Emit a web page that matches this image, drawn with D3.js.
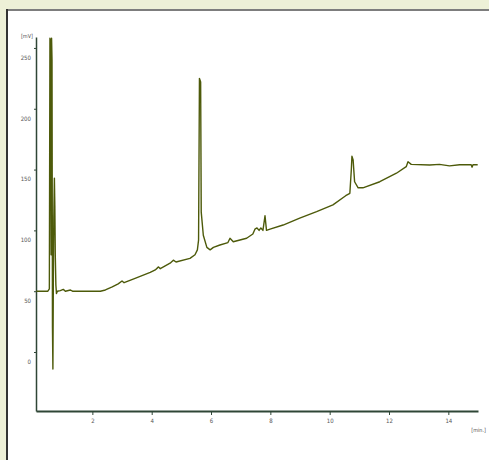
<!DOCTYPE html>
<html>
<head>
<meta charset="utf-8">
<script src="https://cdn.jsdelivr.net/npm/d3@7"></script>
<style>
  body { margin: 0; background: #edf0d7; }
  #container { width: 489px; height: 460px; overflow: hidden; }
  text { font-family: "Liberation Sans Narrow", "DejaVu Sans Condensed", sans-serif; fill: #555; }
</style>
</head>
<body>
<div id="container"></div>
<script>
/* CONSTANTS AND GLOBALS */
const width = 489,
  height = 460;

/* DATA - chromatogram trace */
const times = [0.11, 0.50, 0.55, 0.57, 0.59, 0.60, 0.61, 0.625, 0.64, 0.655, 0.67, 0.685, 0.70, 0.72, 0.735, 0.75, 0.77, 0.79, 0.82,
  0.92, 1.02, 1.09, 1.26, 1.33, 2.27, 2.44, 2.67, 2.87, 3.00, 3.07, 3.44, 3.95, 4.12, 4.23, 4.29, 4.62, 4.73, 4.82, 5.29, 5.46,
  5.54, 5.58, 5.61, 5.65, 5.67, 5.74, 5.86, 5.97, 6.08, 6.30, 6.57, 6.64, 6.75, 7.20, 7.41, 7.48, 7.55, 7.62, 7.68, 7.75, 7.82,
  7.87, 7.99, 8.43, 8.99, 9.56, 10.11, 10.54, 10.68, 10.73, 10.75, 10.79, 10.84, 10.96, 11.12, 11.69, 12.25, 12.58, 12.64, 12.75,
  13.37, 13.70, 14.04, 14.38, 14.77, 14.80, 14.83, 14.99];
const signal = [50, 50, 52, 258, 255, 140, 80, 258, 240, 20, -14, 60, 110, 143, 120, 80, 55, 48, 50,
  50.5, 51.5, 50, 51, 50, 50, 51, 53.5, 56, 58.4, 57, 60.5, 65.5, 67.5, 70, 68.5, 73, 75.5, 74, 77, 80,
  84, 92, 225, 222, 115, 96, 86, 84, 86, 88, 90, 93.5, 90.7, 93.5, 97, 101, 102, 100, 102, 100, 112,
  100, 101, 104.4, 110, 115.4, 121, 128.5, 130.5, 150, 161, 158, 140, 135, 135, 140, 147, 152.4, 156.5, 154.3,
  153.8, 154.3, 153, 154, 154, 152, 154, 154];

const xTicks = [2, 4, 6, 8, 10, 12, 14];
const yTicks = [0, 50, 100, 150, 200, 250];
const xUnit = "[min.]";
const yUnit = "[mV]";

const trace = times.map((t, i) => ({ t: t, v: signal[i] }));

const svg = d3.select("#container")
  .append("svg")
  .attr("width", width)
  .attr("height", height);

/* white panel with its frame */
svg.append("rect")
  .attr("x", 6).attr("y", 9)
  .attr("width", width).attr("height", height)
  .attr("fill", "#ffffff");
svg.append("line")
  .attr("x1", 6).attr("x2", width).attr("y1", 10).attr("y2", 10)
  .attr("stroke", "#7d7d7d").attr("stroke-width", 2);
svg.append("line")
  .attr("x1", 7).attr("x2", 7).attr("y1", 9).attr("y2", height)
  .attr("stroke", "#333333").attr("stroke-width", 2);

/* SCALES */
const xScale = d3.scaleLinear().domain([0.1, 15]).range([36, 478]);
const yScale = d3.scaleLinear().domain([-48.5, 259]).range([411, 37]);

const axisColor = "#2f4636";

/* AXES */
const xAxis = svg.append("g")
  .attr("transform", `translate(0, 411)`)
  .call(d3.axisBottom(xScale).tickValues(xTicks).tickSize(4).tickSizeOuter(0).tickPadding(4));
xAxis.select(".domain").attr("stroke", axisColor).attr("stroke-width", 2);
xAxis.selectAll(".tick line").attr("stroke", axisColor);
xAxis.selectAll("text").attr("font-size", 6).style("fill", "#555");

const yAxis = svg.append("g")
  .attr("transform", `translate(36, 0)`)
  .call(d3.axisLeft(yScale).tickValues(yTicks).tickSize(2).tickSizeOuter(0).tickPadding(3));
yAxis.select(".domain").attr("stroke", axisColor).attr("stroke-width", 1.5);
yAxis.selectAll(".tick line").attr("stroke", axisColor);
// labels in this chart sit a little under their tick
yAxis.selectAll("text").attr("font-size", 6).attr("dy", "1.9em").style("fill", "#555");

svg.append("text")
  .attr("x", 33).attr("y", 38)
  .attr("text-anchor", "end")
  .attr("font-size", 5.5)
  .text(yUnit);
svg.append("text")
  .attr("x", 486).attr("y", 432)
  .attr("text-anchor", "end")
  .attr("font-size", 5.5)
  .text(xUnit);

/* LINE */
const line = d3.line()
  .x(d => xScale(d.t))
  .y(d => yScale(d.v));

svg.append("path")
  .datum(trace)
  .attr("d", line)
  .attr("fill", "none")
  .attr("stroke", "#4d5a0a")
  .attr("stroke-width", 1.4)
  .attr("stroke-linejoin", "round");
</script>
</body>
</html>
